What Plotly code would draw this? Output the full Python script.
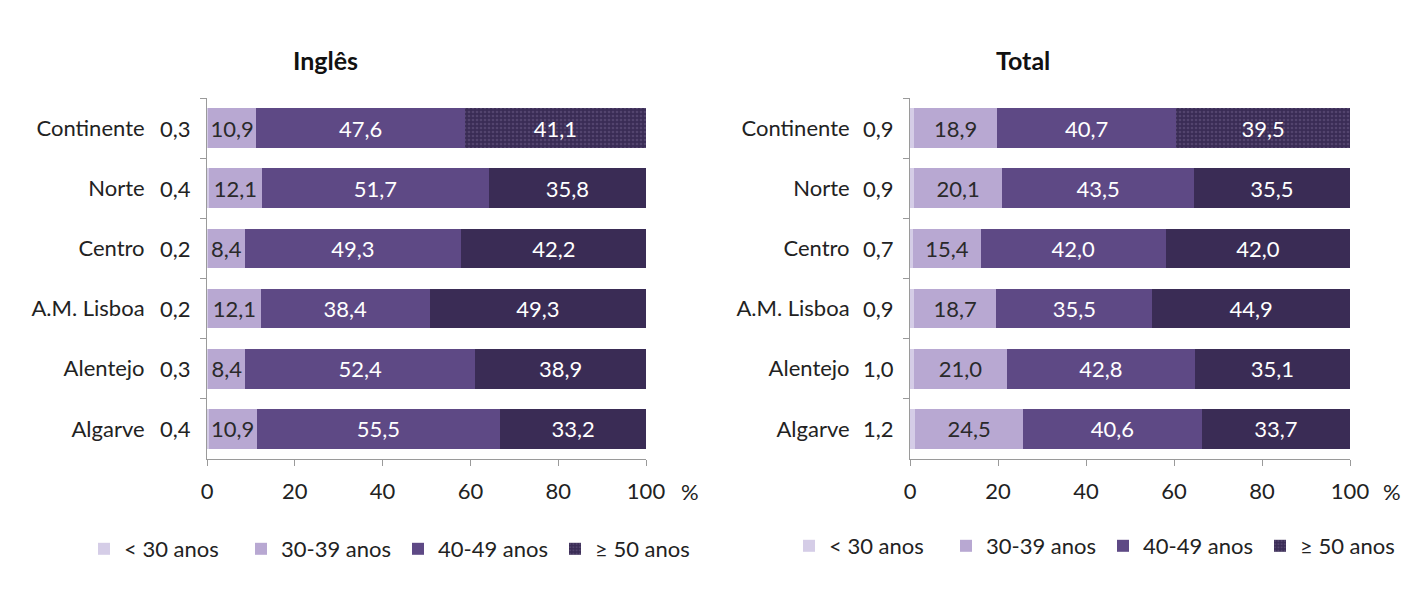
import plotly.graph_objects as go

# Regions (top to bottom)
regions = ["Continente", "Norte", "Centro", "A.M. Lisboa", "Alentejo", "Algarve"]
age_groups = ["< 30 anos", "30-39 anos", "40-49 anos", "≥ 50 anos"]

# Inglês: share of teachers by age group (%)
ingles_lt30 = [0.3, 0.4, 0.2, 0.2, 0.3, 0.4]
ingles_30_39 = [10.9, 12.1, 8.4, 12.1, 8.4, 10.9]
ingles_40_49 = [47.6, 51.7, 49.3, 38.4, 52.4, 55.5]
ingles_ge50 = [41.1, 35.8, 42.2, 49.3, 38.9, 33.2]

# Total: share of teachers by age group (%)
total_lt30 = [0.9, 0.9, 0.7, 0.9, 1.0, 1.2]
total_30_39 = [18.9, 20.1, 15.4, 18.7, 21.0, 24.5]
total_40_49 = [40.7, 43.5, 42.0, 35.5, 42.8, 40.6]
total_ge50 = [39.5, 35.5, 42.0, 44.9, 35.1, 33.7]

x_ticks = [0, 20, 40, 60, 80, 100]

colors = ["#d5cde7", "#b8a8d2", "#5e4985", "#3a2c55"]
text_colors = ["#2a2a2a", "#2a2a2a", "#ffffff", "#ffffff"]
FONT = "Lato"
FS = 22
W, H = 1419, 603


def fmt(v):
    return f"{v:.1f}".replace(".", ",")


def px_x(p):
    return p / W


def px_y(p):
    return 1 - p / H


panels = [
    ("x", "y", "legend", [ingles_lt30, ingles_30_39, ingles_40_49, ingles_ge50]),
    ("x2", "y2", "legend2", [total_lt30, total_30_39, total_40_49, total_ge50]),
]

fig = go.Figure()
for xa, ya, lg, series in panels:
    for i, (name, vals) in enumerate(zip(age_groups, series)):
        pattern = None
        if i == 3:
            pattern = dict(shape=["."] + [""] * (len(regions) - 1),
                           fgcolor="#6b5c88", bgcolor=colors[3],
                           size=4, solidity=0.35)
        fig.add_trace(go.Bar(
            y=regions, x=vals, name=name, orientation="h",
            xaxis=xa, yaxis=ya, legend=lg,
            marker=dict(color=colors[i], line=dict(width=0), pattern=pattern),
            text=None if i == 0 else [fmt(v) for v in vals],
            textposition="inside", insidetextanchor="middle",
            textfont=dict(family=FONT, size=FS, color=text_colors[i]),
            hoverinfo="skip",
        ))
    # small "< 30 anos" shares are labelled beside the axis
    for r, v in zip(regions, series[0]):
        fig.add_annotation(x=0, y=r, xref=xa, yref=ya, text=fmt(v),
                           showarrow=False, xanchor="right", xshift=-14,
                           font=dict(family=FONT, size=FS, color="#222"))

y_dom = [px_y(459), px_y(98)]
axis_common = dict(showgrid=False, zeroline=False, showline=True,
                   linecolor="#9a9a9a", linewidth=1, ticks="outside",
                   ticklen=6, tickcolor="#9a9a9a", automargin=False,
                   tickfont=dict(family=FONT, size=FS, color="#222"))
legend_common = dict(orientation="h", xanchor="left", yanchor="middle",
                     font=dict(family=FONT, size=FS, color="#222"),
                     bgcolor="rgba(0,0,0,0)", traceorder="normal",
                     itemwidth=30, entrywidth=112)

fig.update_layout(
    width=W, height=H, barmode="stack", bargap=0.34,
    paper_bgcolor="white", plot_bgcolor="white",
    margin=dict(l=0, r=0, t=0, b=0, autoexpand=False),
    font=dict(family=FONT, size=FS, color="#222"),
    uniformtext=dict(minsize=FS, mode="show"),
    xaxis=dict(domain=[px_x(207), px_x(646)], range=[0, 100], tickvals=x_ticks,
               ticklabelstandoff=7, anchor="y", **axis_common),
    xaxis2=dict(domain=[px_x(910), px_x(1350)], range=[0, 100], tickvals=x_ticks,
                ticklabelstandoff=7, anchor="y2", **axis_common),
    yaxis=dict(domain=y_dom, autorange="reversed", tickson="boundaries",
               ticklabelstandoff=57, anchor="x", **axis_common),
    yaxis2=dict(domain=y_dom, autorange="reversed", tickson="boundaries",
                ticklabelstandoff=55, anchor="x2", **axis_common),
    legend=dict(x=px_x(84), y=px_y(549), **legend_common),
    legend2=dict(x=px_x(789), y=px_y(546), **legend_common),
)

# panel titles and unit labels
for txt, xp in [("Inglês", 325), ("Total", 1023)]:
    fig.add_annotation(x=px_x(xp), y=px_y(60), xref="paper", yref="paper",
                       xanchor="center", yanchor="middle",
                       text=f"<b>{txt}</b>", showarrow=False,
                       font=dict(family=FONT, size=25, color="#111"))
for xp in [690, 1392]:
    fig.add_annotation(x=px_x(xp), y=px_y(491), xref="paper", yref="paper",
                       xanchor="center", yanchor="middle",
                       text="%", showarrow=False,
                       font=dict(family=FONT, size=FS, color="#222"))

fig.write_html("out.html")
